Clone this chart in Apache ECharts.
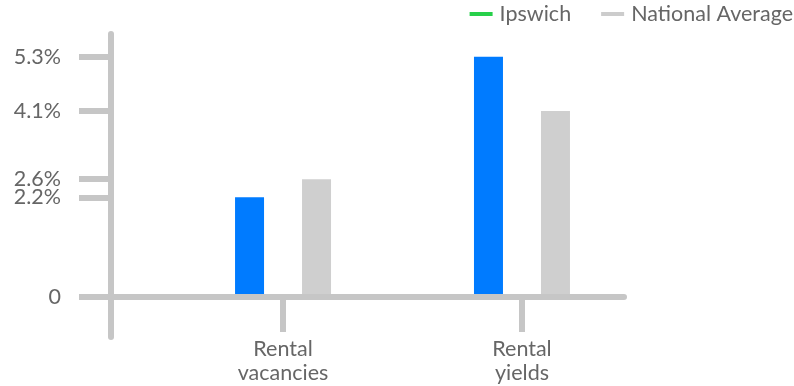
<!DOCTYPE html>
<html>
<head>
<meta charset="utf-8">
<script src="https://cdn.jsdelivr.net/npm/echarts@6/dist/echarts.min.js"></script>
<style>
  html, body { margin: 0; padding: 0; background: #ffffff; }
  #chart { width: 794px; height: 386px; }
</style>
</head>
<body>
<div id="chart"></div>
<script>
// Rental market comparison: Ipswich vs national average (percent)
const categories = ['Rental\nvacancies', 'Rental\nyields'];
const ipswich = [2.2, 5.3];
const nationalAverage = [2.6, 4.1];
const yTickValues = [0, 2.2, 2.6, 4.1, 5.3];

const FONT = 'Lato, "Open Sans", sans-serif';
const FONT_SIZE = 21.5;
const AXIS_GREY = '#c6c6c6';
const TEXT_GREY = '#666666';

const toPoints = values => values.map((v, i) => [i, v]);

const chart = echarts.init(document.getElementById('chart'), null, { renderer: 'canvas' });

chart.setOption({
  backgroundColor: '#ffffff',
  animation: false,
  textStyle: { fontFamily: FONT },
  legend: {
    right: 1,
    top: 3,
    padding: 0,
    itemWidth: 23,
    itemHeight: 4,
    itemGap: 30,
    icon: 'rect',
    textStyle: { fontFamily: FONT, fontSize: FONT_SIZE, color: TEXT_GREY, padding: [0, 0, 0, 2] },
    data: [
      { name: 'Ipswich', itemStyle: { color: '#27d04a' } },
      { name: 'National Average', itemStyle: { color: '#cccccc' } }
    ]
  },
  grid: { left: 111, right: 170, top: 34, bottom: 49, containLabel: false, outerBoundsMode: 'none' },
  xAxis: {
    type: 'value',
    min: -0.72,
    max: 1.427,
    z: 3,
    splitLine: { show: false },
    axisLine: { show: true, onZero: true, lineStyle: { color: AXIS_GREY, width: 6 } },
    axisTick: {
      show: true,
      length: 35,
      customValues: categories.map((c, i) => i),
      lineStyle: { color: AXIS_GREY, width: 6 }
    },
    axisLabel: {
      customValues: categories.map((c, i) => i),
      formatter: v => categories[Math.round(v)],
      margin: 0,
      fontFamily: FONT,
      fontSize: FONT_SIZE,
      lineHeight: 24,
      color: TEXT_GREY
    }
  },
  yAxis: {
    type: 'value',
    min: -0.88,
    max: 5.8,
    z: 3,
    splitLine: { show: false },
    axisLine: { show: true, onZero: false, lineStyle: { color: AXIS_GREY, width: 6 } },
    axisTick: {
      show: true,
      length: 32,
      customValues: yTickValues,
      lineStyle: { color: AXIS_GREY, width: 6 }
    },
    axisLabel: {
      customValues: yTickValues,
      formatter: v => (v === 0 ? '0' : v + '%'),
      margin: 50,
      fontFamily: FONT,
      fontSize: FONT_SIZE,
      color: TEXT_GREY
    }
  },
  series: [
    {
      name: 'Ipswich',
      type: 'bar',
      data: toPoints(ipswich),
      barWidth: 29,
      barGap: '131%',
      itemStyle: { color: '#007bff' }
    },
    {
      name: 'National Average',
      type: 'bar',
      data: toPoints(nationalAverage),
      barWidth: 29,
      barGap: '131%',
      itemStyle: { color: '#cfcfcf' }
    }
  ]
});
</script>
</body>
</html>
